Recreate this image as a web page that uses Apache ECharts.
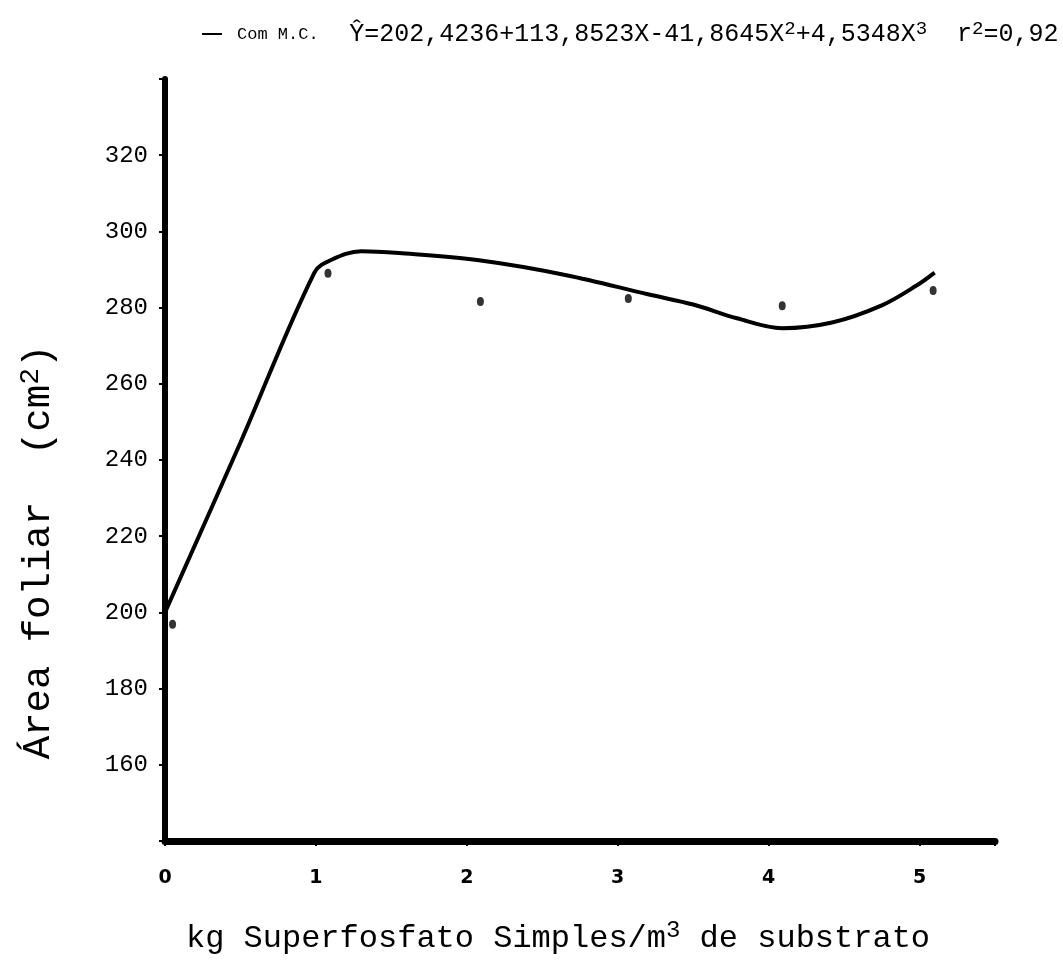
<!DOCTYPE html>
<html>
<head>
<meta charset="utf-8">
<script src="https://cdn.jsdelivr.net/npm/echarts@6/dist/echarts.min.js"></script>
<style>html,body{margin:0;padding:0;background:#fff}#c{width:1063px;height:962px}</style>
</head>
<body>
<div id="c"></div>
<script>
// Fitted curve as drawn (x, y)
const curveX = [0, 0.5, 0.99, 1.1, 1.3, 1.55, 2.08, 2.66, 3.2, 3.5, 3.79, 4.09, 4.42, 4.75, 4.98, 5.1];
const curveY = [200, 244.6, 289.2, 292.5, 294.8, 294.3, 292.4, 288.5, 283.5, 280.8, 277.2, 274.6, 276.1, 280.6, 285.8, 289.2];
// Observed points (x, y)
const pointX = [0.05, 1.08, 2.09, 3.07, 4.09, 5.09];
const pointY = [196.9, 289.0, 281.6, 282.4, 280.5, 284.5];
// Tick labels
const yTicks = [160, 180, 200, 220, 240, 260, 280, 300, 320];
const xTicks = [0, 1, 2, 3, 4, 5];

const chart = echarts.init(document.getElementById('c'));
const mono = 'Liberation Mono';
chart.setOption({
  backgroundColor: '#fff',
  animation: false,
  grid: { left: 165, right: 68, top: 79, bottom: 121, containLabel: false },
  legend: {
    left: 197, top: 14,
    data: [{ name: 'Com M.C.', icon: 'path://M0,0L10,0L10,1L0,1Z' }],
    itemWidth: 40, itemHeight: 2,
    itemStyle: { color: '#000' },
    formatter: function (n) {
      return '{a|' + n + '}{g|   }{b|Ŷ=202,4236+113,8523X-41,8645X}{s|2}{b|+4,5348X}{s|3}{b|  r}{s|2}{b|=0,92}';
    },
    textStyle: {
      color: '#000',
      rich: {
        a: { fontFamily: mono, fontSize: 17, lineHeight: 30, color: '#000' },
        g: { fontFamily: mono, fontSize: 17, lineHeight: 30 },
        b: { fontFamily: mono, fontSize: 25, lineHeight: 30, color: '#000' },
        s: { fontFamily: mono, fontSize: 19, lineHeight: 18, verticalAlign: 'top', color: '#000' }
      }
    }
  },
  xAxis: {
    type: 'value', min: 0, max: 5.5, interval: 1,
    name: '{n|kg Superfosfato Simples/m}{s|3}{n| de substrato}',
    nameLocation: 'middle', nameGap: 78,
    nameTextStyle: {
      padding: [0, 44, 0, 0],
      rich: {
        n: { fontFamily: mono, fontSize: 32, lineHeight: 40, color: '#000' },
        s: { fontFamily: mono, fontSize: 24, lineHeight: 24, verticalAlign: 'top', color: '#000' }
      }
    },
    axisLine: { onZero: false, lineStyle: { color: '#000', width: 7 } },
    axisTick: { show: true, length: 5, lineStyle: { color: '#000', width: 2 } },
    axisLabel: {
      margin: 28, color: '#000', fontFamily: 'DejaVu Sans', fontWeight: 'bold', fontSize: 19,
      formatter: function (v) { return xTicks.indexOf(v) >= 0 ? String(v) : ''; }
    },
    splitLine: { show: false }
  },
  yAxis: {
    type: 'value', min: 140, max: 340, interval: 20,
    name: '{n|Área foliar  (cm}{s|2}{n|)}',
    nameLocation: 'middle', nameGap: 104, nameRotate: 90,
    nameTextStyle: {
      padding: [0, 184, 0, 0],
      rich: {
        n: { fontFamily: mono, fontSize: 39, lineHeight: 44, color: '#000' },
        s: { fontFamily: mono, fontSize: 28, lineHeight: 28, verticalAlign: 'top', color: '#000' }
      }
    },
    axisLine: { show: true, lineStyle: { color: '#000', width: 6 } },
    axisTick: { show: true, length: 6, lineStyle: { color: '#000', width: 2 } },
    axisLabel: {
      margin: 17, color: '#000', fontFamily: mono, fontSize: 24,
      formatter: function (v) { return yTicks.indexOf(v) >= 0 ? String(v) : ''; }
    },
    splitLine: { show: false }
  },
  series: [
    {
      name: 'Com M.C.', type: 'line', smooth: 0.35, symbol: 'none',
      lineStyle: { color: '#000', width: 4 },
      data: curveX.map((x, i) => [x, curveY[i]])
    },
    {
      name: 'obs', type: 'scatter', symbol: 'circle', symbolSize: [7, 9],
      itemStyle: { color: '#000' },
      data: pointX.map((x, i) => [x, pointY[i]])
    }
  ]
});
</script>
</body>
</html>
